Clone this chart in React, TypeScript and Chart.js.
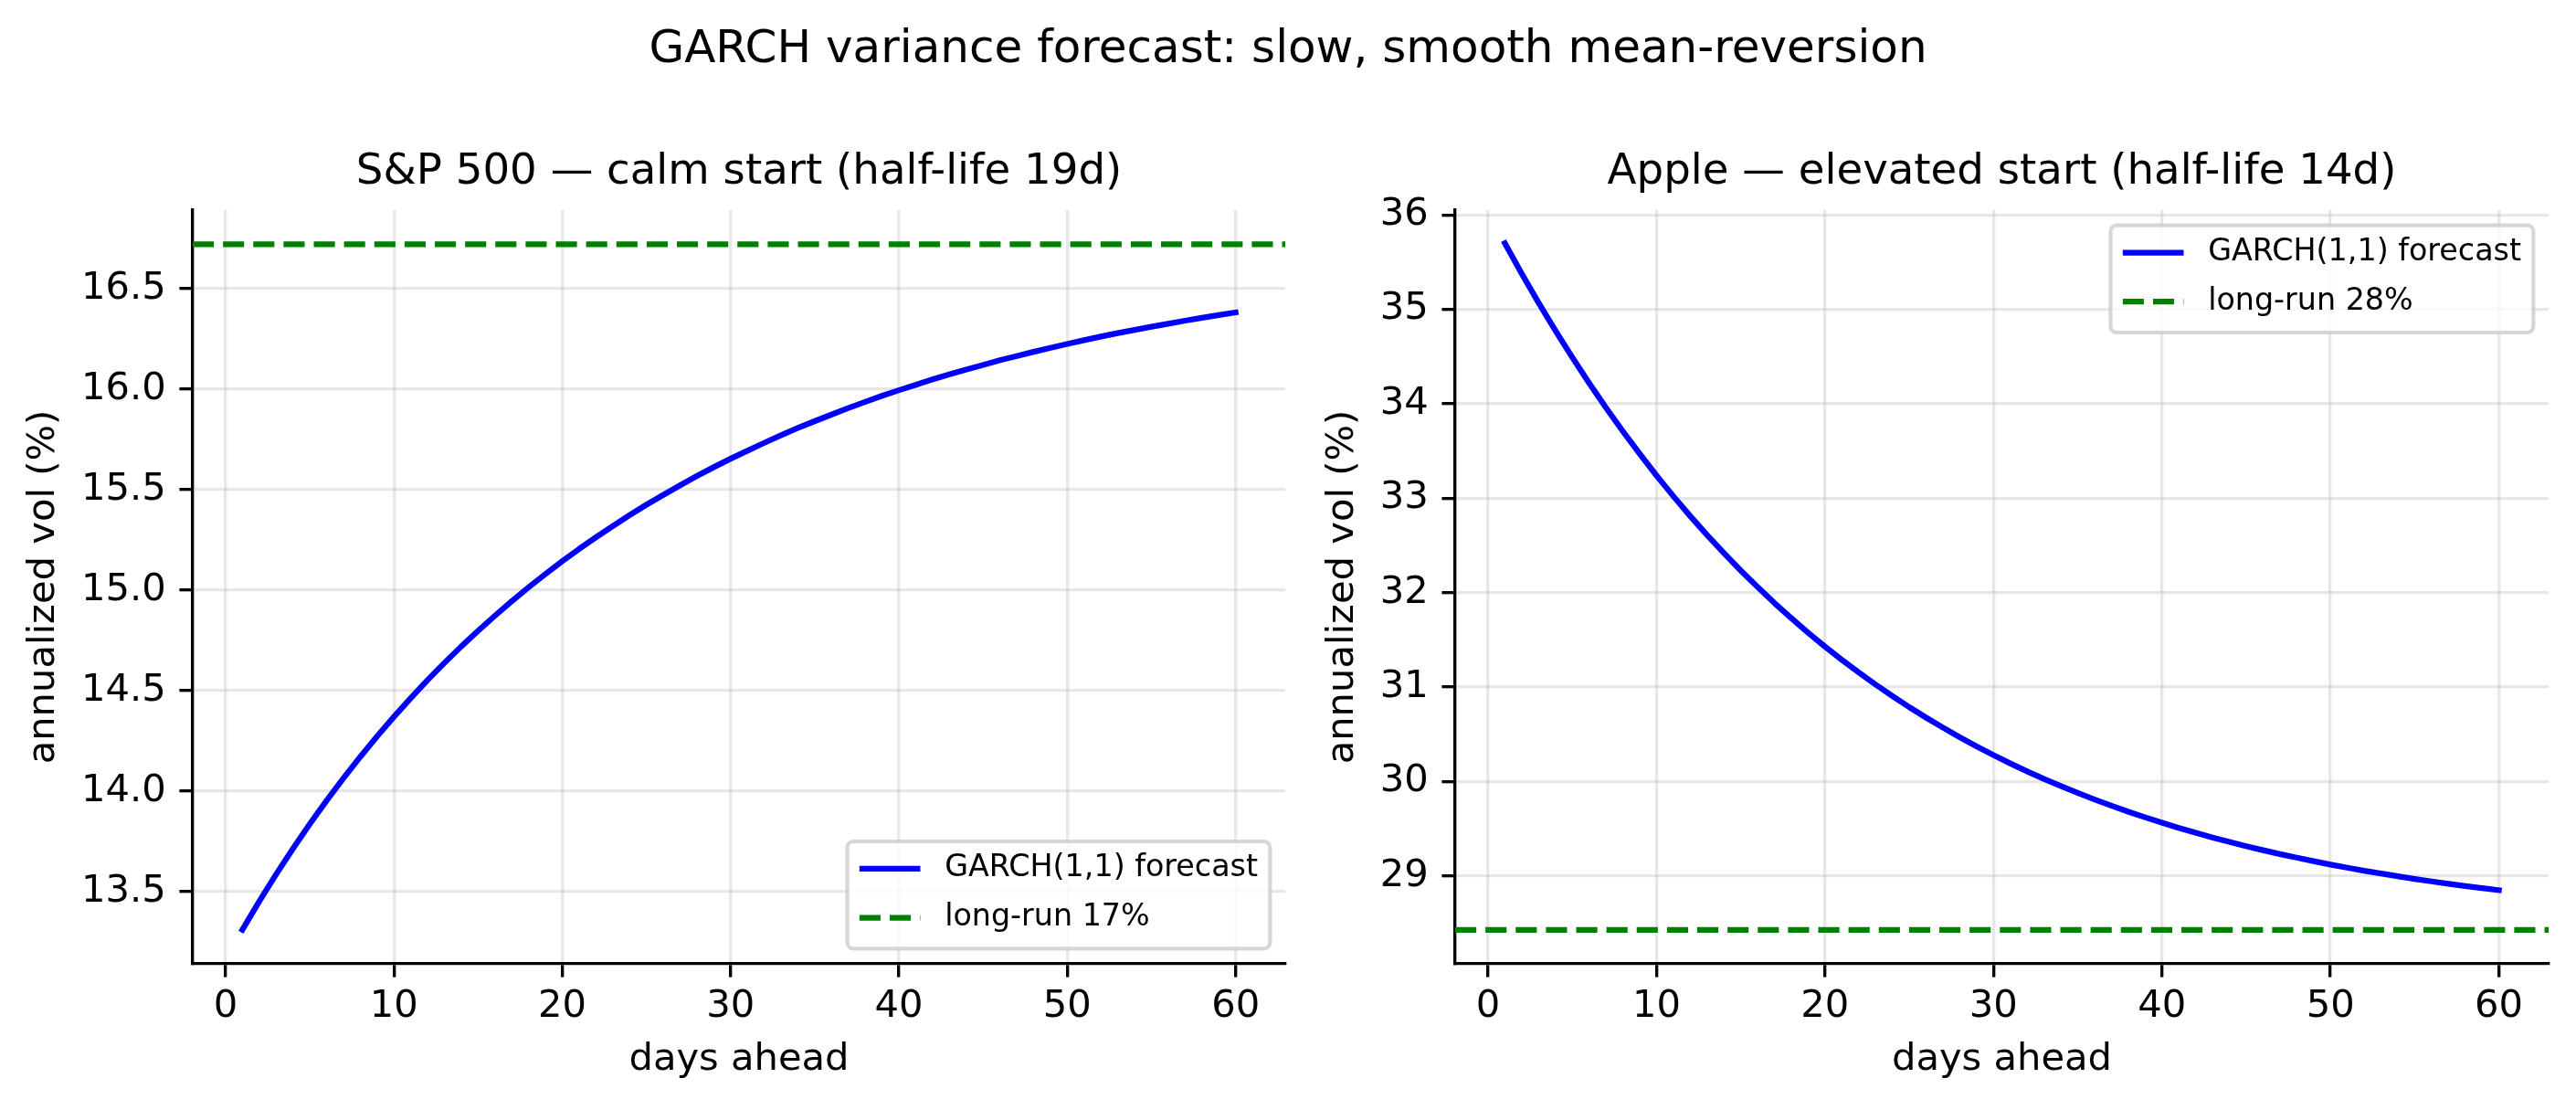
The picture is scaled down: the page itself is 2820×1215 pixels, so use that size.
import React, { useEffect, useRef } from "react";
import { Chart, registerables } from "chart.js";

Chart.register(...registerables);

// forecast horizon (days ahead)
const DAYS = [
  1, 2, 3, 4, 5, 6, 7, 8, 9, 10,
  11, 12, 13, 14, 15, 16, 17, 18, 19, 20,
  21, 22, 23, 24, 25, 26, 27, 28, 29, 30,
  31, 32, 33, 34, 35, 36, 37, 38, 39, 40,
  41, 42, 43, 44, 45, 46, 47, 48, 49, 50,
  51, 52, 53, 54, 55, 56, 57, 58, 59, 60,
];

// annualized vol forecast (%), read off the picture
const SPX_VOL = [
  13.31, 13.451, 13.585, 13.713, 13.835, 13.952, 14.063, 14.17, 14.272, 14.369,
  14.462, 14.552, 14.637, 14.719, 14.797, 14.872, 14.944, 15.013, 15.079, 15.143,
  15.204, 15.262, 15.318, 15.372, 15.424, 15.473, 15.521, 15.567, 15.611, 15.653,
  15.693, 15.732, 15.77, 15.806, 15.84, 15.873, 15.905, 15.936, 15.966, 15.994,
  16.021, 16.048, 16.073, 16.097, 16.12, 16.143, 16.164, 16.185, 16.205, 16.224,
  16.243, 16.261, 16.278, 16.294, 16.31, 16.325, 16.34, 16.354, 16.368, 16.381,
];

const AAPL_VOL = [
  35.7, 35.378, 35.07, 34.775, 34.491, 34.219, 33.958, 33.709, 33.47, 33.24,
  33.021, 32.811, 32.61, 32.418, 32.234, 32.059, 31.89, 31.73, 31.576, 31.429,
  31.289, 31.155, 31.027, 30.905, 30.788, 30.677, 30.571, 30.469, 30.373, 30.28,
  30.192, 30.108, 30.028, 29.952, 29.879, 29.81, 29.744, 29.681, 29.621, 29.564,
  29.509, 29.457, 29.408, 29.361, 29.316, 29.273, 29.232, 29.194, 29.157, 29.121,
  29.088, 29.056, 29.026, 28.997, 28.969, 28.943, 28.918, 28.894, 28.872, 28.85,
];

const SPX_LONG_RUN = 16.72;
const AAPL_LONG_RUN = 28.43;

// x limits of both panels (axhline spans the full width)
const X_RANGE = [-1.95, 62.95];

const PT = 300 / 72; // picture was saved at 300 dpi
const FONT = "'DejaVu Sans', sans-serif";
const GRID = "rgba(176,176,176,0.3)";
const HEIGHT = 1215;
const TITLE_SIZE = 11.2 * PT;

function roundRect(ctx: CanvasRenderingContext2D, x: number, y: number, w: number, h: number, r: number) {
  ctx.beginPath();
  ctx.moveTo(x + r, y);
  ctx.arcTo(x + w, y, x + w, y + h, r);
  ctx.arcTo(x + w, y + h, x, y + h, r);
  ctx.arcTo(x, y + h, x, y, r);
  ctx.arcTo(x, y, x + w, y, r);
  ctx.closePath();
}

// matplotlib-like framed legend inside the plot area
const frameLegend = {
  id: "frameLegend",
  afterDatasetsDraw(chart: any, _args: any, opts: any) {
    const { ctx, chartArea } = chart;
    const fs = 8 * PT;
    const pad = 0.4 * fs;
    const handle = 2 * fs;
    const gap = 0.8 * fs;
    const spacing = 0.5 * fs;
    const edge = 0.5 * fs;
    const rowH = 37;
    const items = chart.data.datasets;

    ctx.save();
    ctx.font = `${fs}px ${FONT}`;
    const textW = Math.max(...items.map((d: any) => ctx.measureText(d.label).width));
    const w = 2 * pad + handle + gap + textW;
    const h = 2 * pad + items.length * rowH + (items.length - 1) * spacing;
    const x = chartArea.right - edge - w;
    const y = opts.corner === "lower" ? chartArea.bottom - edge - h : chartArea.top + edge;

    roundRect(ctx, x, y, w, h, 0.2 * fs);
    ctx.fillStyle = "rgba(255,255,255,0.8)";
    ctx.fill();
    ctx.lineWidth = PT;
    ctx.strokeStyle = "rgba(204,204,204,0.8)";
    ctx.stroke();

    items.forEach((d: any, i: number) => {
      const cy = y + pad + i * (rowH + spacing) + rowH / 2 - 2;
      ctx.beginPath();
      ctx.setLineDash(d.borderDash || []);
      ctx.lineDashOffset = 0;
      ctx.lineCap = "butt";
      ctx.strokeStyle = d.borderColor;
      ctx.lineWidth = d.borderWidth;
      ctx.moveTo(x + pad, cy);
      ctx.lineTo(x + pad + handle, cy);
      ctx.stroke();
      ctx.setLineDash([]);
      ctx.fillStyle = "#000";
      ctx.textAlign = "left";
      ctx.textBaseline = "middle";
      ctx.fillText(d.label, x + pad + handle + gap, cy);
    });
    ctx.restore();
  },
};

interface PanelProps {
  title: string;
  values: number[];
  longRun: number;
  longRunLabel: string;
  yMin: number;
  yMax: number;
  yStep: number;
  decimals: number;
  corner: "lower" | "upper";
  left: number;
  width: number;
  axisLeft: number;
  axisRight: number;
  yTitlePad: number;
}

function Panel(props: PanelProps) {
  const { title, values, longRun, longRunLabel, yMin, yMax, yStep, decimals, corner, left, width, axisLeft, axisRight, yTitlePad } = props;
  const canvasRef = useRef<HTMLCanvasElement | null>(null);

  useEffect(() => {
    if (!canvasRef.current) return;
    const tickFont = { family: FONT, size: 10 * PT, lineHeight: 1.2 };
    // title baseline sits 6pt above the axes top (230px)
    const titleLine = TITLE_SIZE * 1.2;
    const titleTop = 205 - 0.346 * TITLE_SIZE - titleLine / 2;

    const chart = new Chart(canvasRef.current, {
      type: "line",
      data: {
        datasets: [
          {
            label: "GARCH(1,1) forecast",
            data: DAYS.map((d, i) => ({ x: d, y: values[i] })),
            borderColor: "#0000ff",
            borderWidth: 1.5 * PT,
            borderCapStyle: "square",
            borderJoinStyle: "round",
            pointRadius: 0,
            tension: 0,
            fill: false,
          },
          {
            label: longRunLabel,
            data: X_RANGE.map((x) => ({ x, y: longRun })),
            borderColor: "#008000",
            borderWidth: 1.5 * PT,
            borderDash: [3.7 * 1.5 * PT, 1.6 * 1.5 * PT],
            pointRadius: 0,
            fill: false,
          },
        ],
      },
      options: {
        responsive: false,
        animation: false,
        events: [],
        layout: { padding: { left: 0, top: 0, bottom: 0, right: width - axisRight }, autoPadding: false },
        plugins: {
          legend: { display: false },
          tooltip: { enabled: false },
          title: {
            display: true,
            text: title,
            fullSize: false,
            color: "#000",
            font: { family: FONT, size: TITLE_SIZE, weight: "normal", lineHeight: 1.2 },
            padding: { top: titleTop, bottom: 230 - titleTop - titleLine },
          },
          frameLegend: { corner },
        } as any,
        scales: {
          x: {
            type: "linear",
            min: X_RANGE[0],
            max: X_RANGE[1],
            ticks: { stepSize: 10, includeBounds: false, autoSkip: false, maxRotation: 0, color: "#000", font: tickFont, padding: 8 },
            grid: { color: GRID, lineWidth: 0.8 * PT, tickColor: "#000", tickWidth: 0.8 * PT, tickLength: 3.5 * PT },
            border: { color: "#000", width: 0.8 * PT },
            title: { display: true, text: "days ahead", color: "#000", font: tickFont, padding: { top: 0, bottom: 29.4 } },
            afterFit: (scale: any) => {
              scale.height = 160;
            },
          },
          y: {
            type: "linear",
            min: yMin,
            max: yMax,
            ticks: {
              stepSize: yStep,
              includeBounds: false,
              color: "#000",
              font: tickFont,
              padding: 3.5 * PT,
              callback: (v: any) => Number(v).toFixed(decimals),
            },
            grid: { color: GRID, lineWidth: 0.8 * PT, tickColor: "#000", tickWidth: 0.8 * PT, tickLength: 3.5 * PT },
            border: { color: "#000", width: 0.8 * PT },
            title: { display: true, text: "annualized vol (%)", color: "#000", font: tickFont, padding: { top: yTitlePad, bottom: 0 } },
            afterFit: (scale: any) => {
              scale.width = axisLeft;
            },
          },
        },
      } as any,
      plugins: [frameLegend as any],
    });

    return () => {
      chart.destroy();
    };
  }, [title, values, longRun, longRunLabel, yMin, yMax, yStep, decimals, corner, width, axisLeft, axisRight, yTitlePad]);

  return (
    <canvas
      ref={canvasRef}
      width={width}
      height={HEIGHT}
      style={{ position: "absolute", left, top: 0, display: "block" }}
    />
  );
}

export default function App() {
  return (
    <div style={{ position: "absolute", left: 0, top: 0, width: 2820, height: HEIGHT, background: "#fff", overflow: "hidden" }}>
      <div
        style={{
          position: "absolute",
          left: 0,
          top: 20.7,
          width: 2820,
          textAlign: "center",
          fontFamily: FONT,
          fontSize: 12 * PT,
          lineHeight: "60px",
          color: "#000",
          whiteSpace: "nowrap",
        }}
      >
        GARCH variance forecast: slow, smooth mean-reversion
      </div>
      <Panel
        title="S&P 500 — calm start (half-life 19d)"
        values={SPX_VOL}
        longRun={SPX_LONG_RUN}
        longRunLabel="long-run 17%"
        yMin={13.14}
        yMax={16.89}
        yStep={0.5}
        decimals={1}
        corner="lower"
        left={0}
        width={1440}
        axisLeft={211}
        axisRight={1407}
        yTitlePad={23.1}
      />
      <Panel
        title="Apple — elevated start (half-life 14d)"
        values={AAPL_VOL}
        longRun={AAPL_LONG_RUN}
        longRunLabel="long-run 28%"
        yMin={28.07}
        yMax={36.05}
        yStep={1}
        decimals={0}
        corner="upper"
        left={1440}
        width={1380}
        axisLeft={153}
        axisRight={1350}
        yTitlePad={4.9}
      />
    </div>
  );
}
